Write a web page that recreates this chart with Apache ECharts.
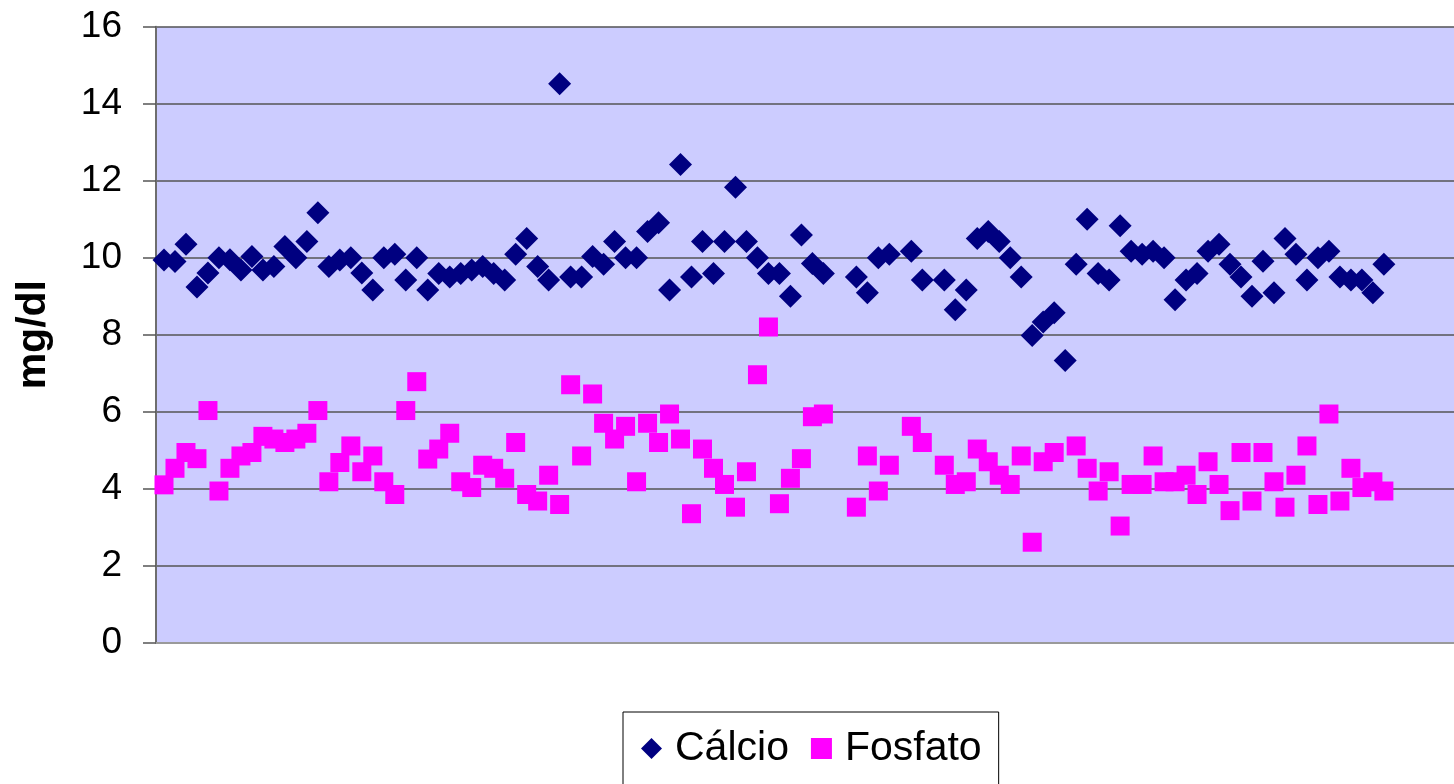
<!DOCTYPE html>
<html>
<head>
<meta charset="utf-8">
<script src="https://cdn.jsdelivr.net/npm/echarts@6/dist/echarts.min.js"></script>
<style>
html,body{margin:0;padding:0;background:#fff;}
#chart{width:1454px;height:784px;}
</style>
</head>
<body>
<div id="chart"></div>
<script>
const calcio = [
  9.94, 9.9, 10.35, 9.24, 9.6, 10.0, 9.95, 9.68, 10.03, 9.68,
  9.77, 10.29, 10.0, 10.42, 11.17, 9.77, 9.94, 10.0, 9.6, 9.16,
  10.0, 10.09, 9.42, 10.0, 9.16, 9.59, 9.5, 9.59, 9.68, 9.77,
  9.59, 9.42, 10.09, 10.5, 9.77, 9.42, 14.52, 9.5, 9.5, 10.03,
  9.83, 10.42, 10.0, 10.0, 10.68, 10.91, 9.16, 12.42, 9.5, 10.42,
  9.59, 10.42, 11.83, 10.42, 10.0, 9.59, 9.59, 9.0, 10.59, 9.85,
  9.59, null, null, 9.5, 9.09, 10.0, 10.09, null, 10.17, 9.42,
  null, 9.42, 8.65, 9.16, 10.5, 10.68, 10.42, 10.0, 9.5, 7.98,
  8.33, 8.57, 7.33, 9.83, 11.0, 9.59, 9.42, 10.83, 10.17, 10.09,
  10.17, 10.0, 8.91, 9.42, 9.59, 10.17, 10.35, 9.83, 9.5, 9.0,
  9.91, 9.09, 10.5, 10.09, 9.42, 10.0, 10.17, 9.5, 9.42, 9.42,
  9.09, 9.83
];
const fosfato = [
  4.1, 4.53, 4.94, 4.78, 6.03, 3.94, 4.53, 4.85, 4.94, 5.36,
  5.29, 5.2, 5.29, 5.44, 6.03, 4.18, 4.68, 5.11, 4.44, 4.85,
  4.18, 3.85, 6.03, 6.78, 4.77, 5.03, 5.44, 4.18, 4.03, 4.61,
  4.53, 4.27, 5.2, 3.85, 3.68, 4.35, 3.59, 6.7, 4.85, 6.46,
  5.7, 5.29, 5.62, 4.18, 5.7, 5.2, 5.94, 5.29, 3.35, 5.03,
  4.53, 4.11, 3.52, 4.44, 6.96, 8.2, 3.61, 4.27, 4.78, 5.87,
  5.94, null, null, 3.52, 4.85, 3.94, 4.61, null, 5.62, 5.2,
  null, 4.61, 4.11, 4.18, 5.03, 4.7, 4.35, 4.11, 4.85, 2.61,
  4.7, 4.94, null, 5.11, 4.53, 3.94, 4.44, 3.03, 4.11, 4.11,
  4.85, 4.18, 4.18, 4.35, 3.85, 4.7, 4.11, 3.43, 4.94, 3.68,
  4.94, 4.18, 3.52, 4.35, 5.11, 3.59, 5.94, 3.68, 4.53, 4.03,
  4.18, 3.94
];
const seriesNames = ['Cálcio', 'Fosfato'];
const yAxisName = 'mg/dl';

function toPoints(arr) {
  const out = [];
  arr.forEach(function (v, i) { if (v !== null) out.push([i, v]); });
  return out;
}

const chart = echarts.init(document.getElementById('chart'), null, {renderer: 'canvas'});
const font = 'Liberation Sans, Arial, sans-serif';
chart.setOption({
  animation: false,
  backgroundColor: '#ffffff',
  grid: {
    left: 156, top: 26.7, width: 1298, height: 616,
    show: true, backgroundColor: '#CCCCFF', borderWidth: 0
  },
  xAxis: {
    type: 'value', min: -0.728, max: 117.38,
    axisLine: {show: true, onZero: false, lineStyle: {color: '#9a9a9a', width: 2}},
    axisTick: {show: false}, axisLabel: {show: false}, splitLine: {show: false}
  },
  yAxis: {
    type: 'value', min: 0, max: 16, interval: 2,
    axisLine: {show: true, onZero: false, lineStyle: {color: '#6e6e6e', width: 2}},
    axisTick: {show: true, length: 13, lineStyle: {color: '#555', width: 1.5}},
    axisLabel: {margin: 34, fontSize: 37, fontFamily: font, color: '#000'},
    splitLine: {show: true, lineStyle: {color: '#555', width: 1.5}},
    name: yAxisName, nameLocation: 'middle', nameGap: 102,
    nameTextStyle: {fontSize: 41, fontWeight: 'bold', fontFamily: font, color: '#000'}
  },
  legend: {
    left: 623, top: 712,
    padding: [16, 17, 40, 18],
    borderColor: '#000', borderWidth: 1,
    itemWidth: 21, itemHeight: 21, itemGap: 22,
    textStyle: {fontFamily: font, fontSize: 41, color: '#000', padding: [0, 0, 0, 8]},
    data: [
      {name: seriesNames[0], icon: 'diamond', itemStyle: {color: '#000080', opacity: 1}},
      {name: seriesNames[1], icon: 'rect', itemStyle: {color: '#FF00FF', opacity: 1}}
    ]
  },
  series: [
    {
      name: seriesNames[0], type: 'scatter', symbol: 'diamond', symbolSize: 23,
      itemStyle: {color: '#000080', opacity: 1}, data: toPoints(calcio)
    },
    {
      name: seriesNames[1], type: 'scatter', symbol: 'rect', symbolSize: 19,
      itemStyle: {color: '#FF00FF', opacity: 1}, data: toPoints(fosfato)
    }
  ]
});
</script>
</body>
</html>
